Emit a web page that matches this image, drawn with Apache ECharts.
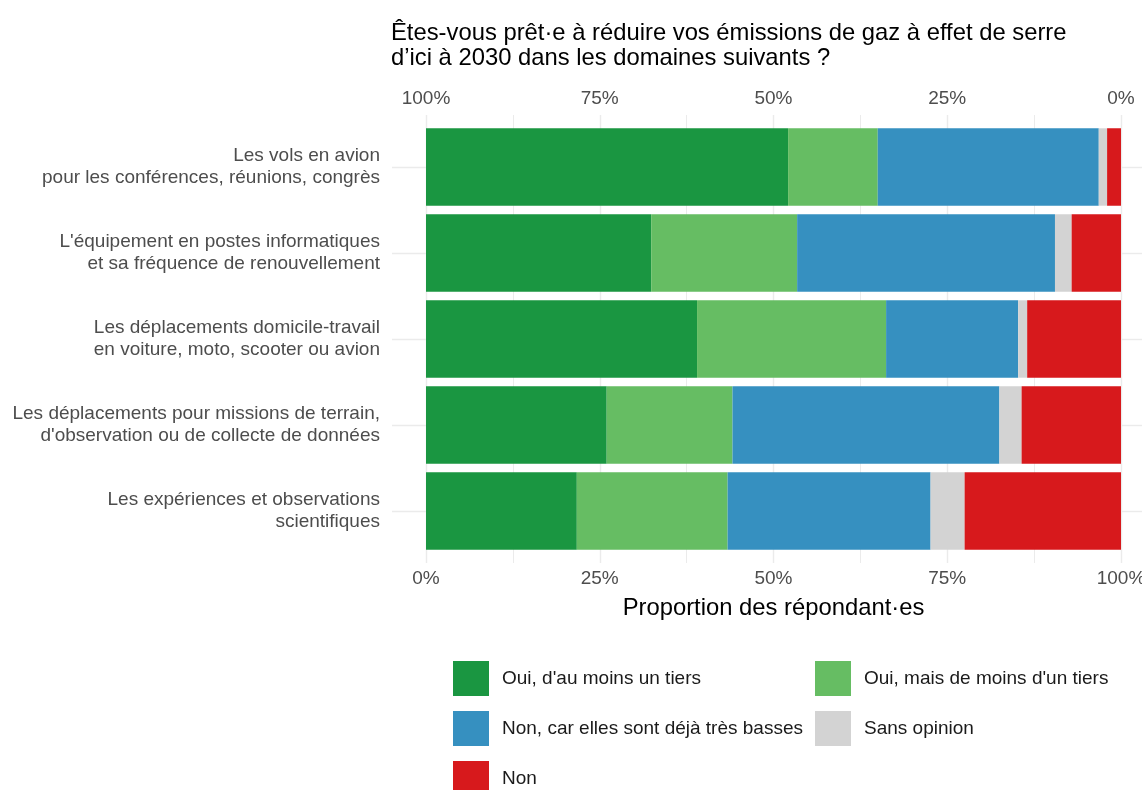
<!DOCTYPE html>
<html>
<head>
<meta charset="utf-8">
<title>Émissions de gaz à effet de serre</title>
<script src="https://cdn.jsdelivr.net/npm/echarts@6/dist/echarts.min.js"></script>
<style>
  html, body { margin: 0; padding: 0; background: #fff; }
  #chart { width: 1142px; height: 790px; }
</style>
</head>
<body>
<div id="chart"></div>
<script>
// domaines (de haut en bas)
const categories = [
  'Les vols en avion\npour les conférences, réunions, congrès',
  "L'équipement en postes informatiques\net sa fréquence de renouvellement",
  'Les déplacements domicile-travail\nen voiture, moto, scooter ou avion',
  'Les déplacements pour missions de terrain,\nd\'observation ou de collecte de données',
  'Les expériences et observations\nscientifiques'
]

// réponses, dans l'ordre d'empilement
const responses = [
  "Oui, d'au moins un tiers",
  "Oui, mais de moins d'un tiers",
  'Non, car elles sont déjà très basses',
  'Sans opinion',
  'Non'
]
const colors = ['#1a9641', '#66bd63', '#3690c0', '#d3d3d3', '#d7191c']

// proportions (%)
const ouiTiers = [52.1, 32.4, 39.0, 26.0, 21.7]
const ouiMoins = [12.9, 21.0, 27.2, 18.1, 21.7]
const nonBasses = [31.8, 37.1, 19.0, 38.4, 29.2]
const sansOpinion = [1.2, 2.4, 1.3, 3.2, 4.9]
const non = [2.0, 7.1, 13.5, 14.3, 22.5]
const values = [ouiTiers, ouiMoins, nonBasses, sansOpinion, non]

const tickLabels = ['0%', '25%', '50%', '75%', '100%']

const font = 'Liberation Sans, Arial, Helvetica, sans-serif'
const gridGrey = '#ebebeb'
const labelGrey = '#4d4d4d'

const chart = echarts.init(document.getElementById('chart'), null, { renderer: 'canvas' })

// libellé des graduations à partir de la liste
const pct = (v) => tickLabels[Math.round(v / 25)] || ''

// légende sur deux colonnes
const legendBox = (items, left) => ({
  data: items,
  orient: 'vertical',
  left: left,
  top: 661,
  height: 200,
  padding: 0,
  itemWidth: 36,
  itemHeight: 35,
  itemGap: 15,
  icon: 'rect',
  textStyle: { fontFamily: font, fontSize: 19, color: '#1a1a1a', padding: [0, 0, 0, 8] }
})

chart.setOption({
  animation: false,
  backgroundColor: '#fff',
  textStyle: { fontFamily: font },
  title: {
    text: 'Êtes-vous prêt·e à réduire vos émissions de gaz à effet de serre\nd’ici à 2030 dans les domaines suivants ?',
    left: 391,
    top: 21,
    padding: 0,
    textStyle: {
      fontFamily: font,
      fontSize: 23.8,
      fontWeight: 'normal',
      color: '#000',
      lineHeight: 25
    }
  },
  legend: [
    legendBox([responses[0], responses[2], responses[4]], 453),
    legendBox([responses[1], responses[3]], 815)
  ],
  grid: {
    left: 426,
    right: 21,
    top: 124,
    bottom: 236,
    containLabel: false,
    outerBoundsMode: 'none'
  },
  xAxis: [
    {
      type: 'value',
      position: 'bottom',
      min: 0,
      max: 100,
      interval: 25,
      name: 'Proportion des répondant·es',
      nameLocation: 'middle',
      nameGap: 42,
      nameTextStyle: { fontFamily: font, fontSize: 23.8, color: '#000' },
      axisLine: { show: false },
      axisTick: { show: true, length: 9, lineStyle: { color: gridGrey, width: 1.4 } },
      minorTick: { show: true, splitNumber: 2, length: 9, lineStyle: { color: gridGrey, width: 1 } },
      splitLine: { show: true, lineStyle: { color: gridGrey, width: 1.4 } },
      minorSplitLine: { show: true, lineStyle: { color: gridGrey, width: 1 } },
      axisLabel: { formatter: pct, margin: 15, fontSize: 19, color: labelGrey }
    },
    {
      type: 'value',
      position: 'top',
      inverse: true,
      min: 0,
      max: 100,
      interval: 25,
      axisLine: { show: false },
      axisTick: { show: true, length: 9, lineStyle: { color: gridGrey, width: 1.4 } },
      minorTick: { show: true, splitNumber: 2, length: 9, lineStyle: { color: gridGrey, width: 1 } },
      splitLine: { show: false },
      axisLabel: { formatter: pct, margin: 16, fontSize: 19, color: labelGrey }
    }
  ],
  yAxis: [
    {
      type: 'category',
      data: categories,
      inverse: true,
      axisLine: { show: false },
      axisTick: { show: true, alignWithLabel: true, length: 34, lineStyle: { color: gridGrey, width: 1.4 } },
      axisLabel: { margin: 46, fontSize: 19, lineHeight: 22, color: labelGrey, align: 'right', padding: [4, 0, 0, 0] },
      splitLine: { show: false }
    },
    {
      type: 'category',
      data: categories,
      inverse: true,
      position: 'right',
      axisLine: { show: false },
      axisTick: { show: true, alignWithLabel: true, length: 21, lineStyle: { color: gridGrey, width: 1.4 } },
      axisLabel: { show: false },
      splitLine: { show: false }
    }
  ],
  series: responses.map((name, i) => ({
    name: name,
    type: 'bar',
    stack: 'total',
    xAxisIndex: 0,
    yAxisIndex: 0,
    barWidth: '90%',
    itemStyle: { color: colors[i] },
    emphasis: { disabled: true },
    data: values[i]
  }))
})
</script>
</body>
</html>
